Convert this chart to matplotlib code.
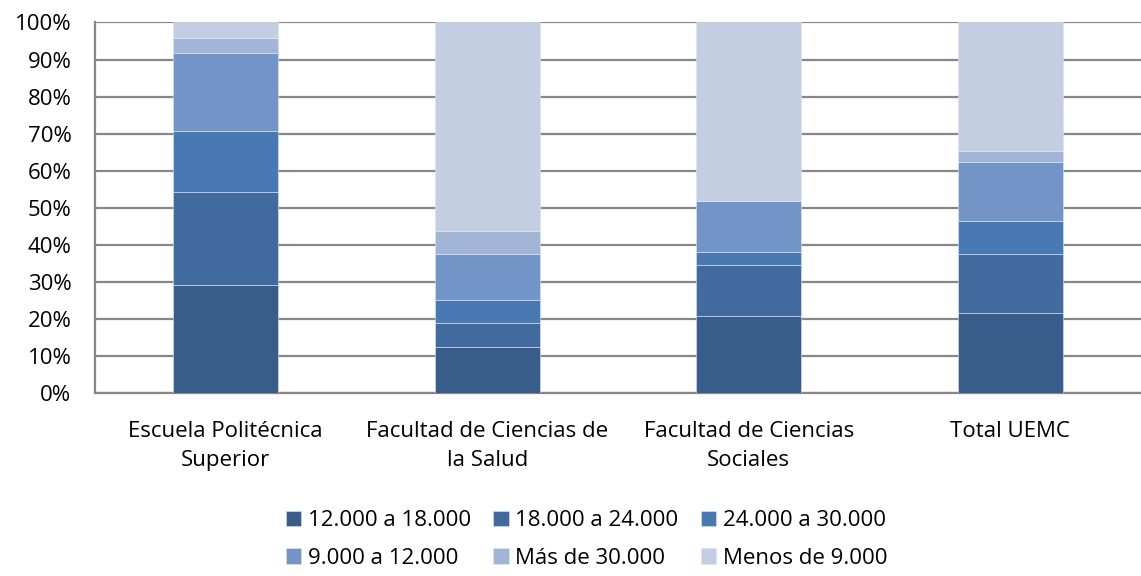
import matplotlib
matplotlib.use('Agg')
import matplotlib.pyplot as plt
import numpy as np

plt.rcParams['font.family'] = ['Open Sans', 'DejaVu Sans']

# categories and stacked shares (%), bottom to top
categories = ['Escuela Politécnica\nSuperior', 'Facultad de Ciencias de\nla Salud',
              'Facultad de Ciencias\nSociales', 'Total UEMC']
series = ['12.000 a 18.000', '18.000 a 24.000', '24.000 a 30.000',
          '9.000 a 12.000', 'Más de 30.000', 'Menos de 9.000']
s_12_18 = [29.0, 12.5, 20.7, 21.5]
s_18_24 = [25.1, 6.25, 13.8, 16.0]
s_24_30 = [16.5, 6.25, 3.4, 8.8]
s_9_12 = [21.1, 12.5, 13.8, 16.0]
s_mas30 = [4.0, 6.25, 0.0, 2.9]
s_menos9 = [4.3, 56.25, 48.3, 34.8]
values = [s_12_18, s_18_24, s_24_30, s_9_12, s_mas30, s_menos9]
colors = ['#385D8A', '#416B9E', '#4879B3', '#7394C6', '#A3B5D6', '#C4CEE3']

fs = 16

fig = plt.figure(figsize=(11.41, 5.76), dpi=100)
ax = fig.add_axes([0.0833, 0.318, 0.9167, 0.643])

x = np.arange(len(categories))
bottom = np.zeros(len(categories))
handles = []
for name, vals, col in zip(series, values, colors):
    vals = np.array(vals)
    b = ax.bar(x, vals, 0.4, bottom=bottom, color=col, label=name,
               edgecolor='#dfe5f0', linewidth=0.4, zorder=3)
    handles.append(b)
    bottom += vals

ax.set_xlim(-0.5, 3.5)
ax.set_ylim(0, 100)
ax.set_yticks(np.arange(0, 101, 10))
ax.set_yticklabels(['%d%%' % v for v in range(0, 101, 10)], fontsize=fs)
ax.set_xticks(x)
ax.set_xticklabels(categories, fontsize=fs, linespacing=1.55)
ax.tick_params(axis='x', length=0, pad=20)
ax.tick_params(axis='y', length=0, pad=17)
ax.grid(axis='y', color='#878787', linewidth=1.6, zorder=0)
for s in ['top', 'right']:
    ax.spines[s].set_visible(False)
for s in ['left', 'bottom']:
    ax.spines[s].set_color('#878787')
    ax.spines[s].set_linewidth(1.6)

# legend: order fills column-wise, so interleave rows
order = [0, 3, 1, 4, 2, 5]
leg = fig.legend([handles[i] for i in order], [series[i] for i in order],
                 ncol=3, loc='center', bbox_to_anchor=(0.514, 0.0635),
                 frameon=False, fontsize=fs, handlelength=0.7, handleheight=0.7,
                 handletextpad=0.3, columnspacing=1.0, labelspacing=0.75)

fig.savefig('out.png', dpi=100)
